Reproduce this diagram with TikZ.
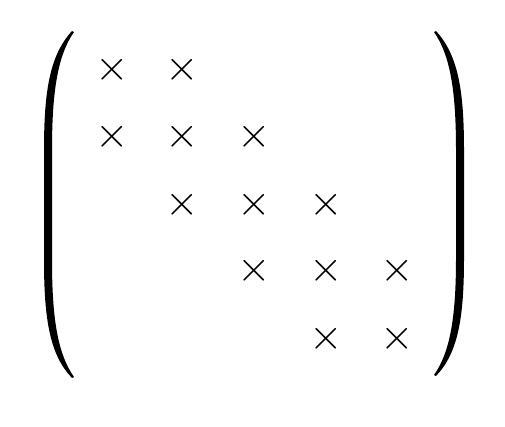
\documentclass[tikz,border=0pt]{standalone}
\usepackage{amsmath,amssymb}
\usepackage{tikz}
\usetikzlibrary{positioning}

\tikzset{entry/.style={inner sep=0pt,scale=4.3}}

\begin{document}
\begin{tikzpicture}[x=1pt,y=-1pt]
\useasboundingbox (0,0) rectangle (505,426);
% entries of the band
\foreach \i/\y in {1/70,2/137,3/205,4/271,5/339}{
  \foreach \j/\x in {1/112,2/182,3/254,4/326,5/397}{
    \pgfmathtruncatemacro{\d}{abs(\i-\j)}
    \ifnum\d<2
      \node[entry] (m-\i-\j) at (\x,\y) {$\times$};
    \fi
  }
}
% left parenthesis
\fill (74,32) .. controls (58,55) and (52,90) .. (52,150) -- (52,260)
  .. controls (52,320) and (58,354) .. (74,377) -- (72,378)
  .. controls (50,355) and (44,320) .. (44,260) -- (44,150)
  .. controls (44,90) and (50,55) .. (72,31) -- cycle;
% right parenthesis
\fill (434,32) .. controls (450,55) and (456,90) .. (456,150) -- (456,258)
  .. controls (456,318) and (450,352) .. (434,375) -- (436,376)
  .. controls (458,353) and (464,318) .. (464,258) -- (464,150)
  .. controls (464,90) and (458,55) .. (436,31) -- cycle;
\end{tikzpicture}
\end{document}
